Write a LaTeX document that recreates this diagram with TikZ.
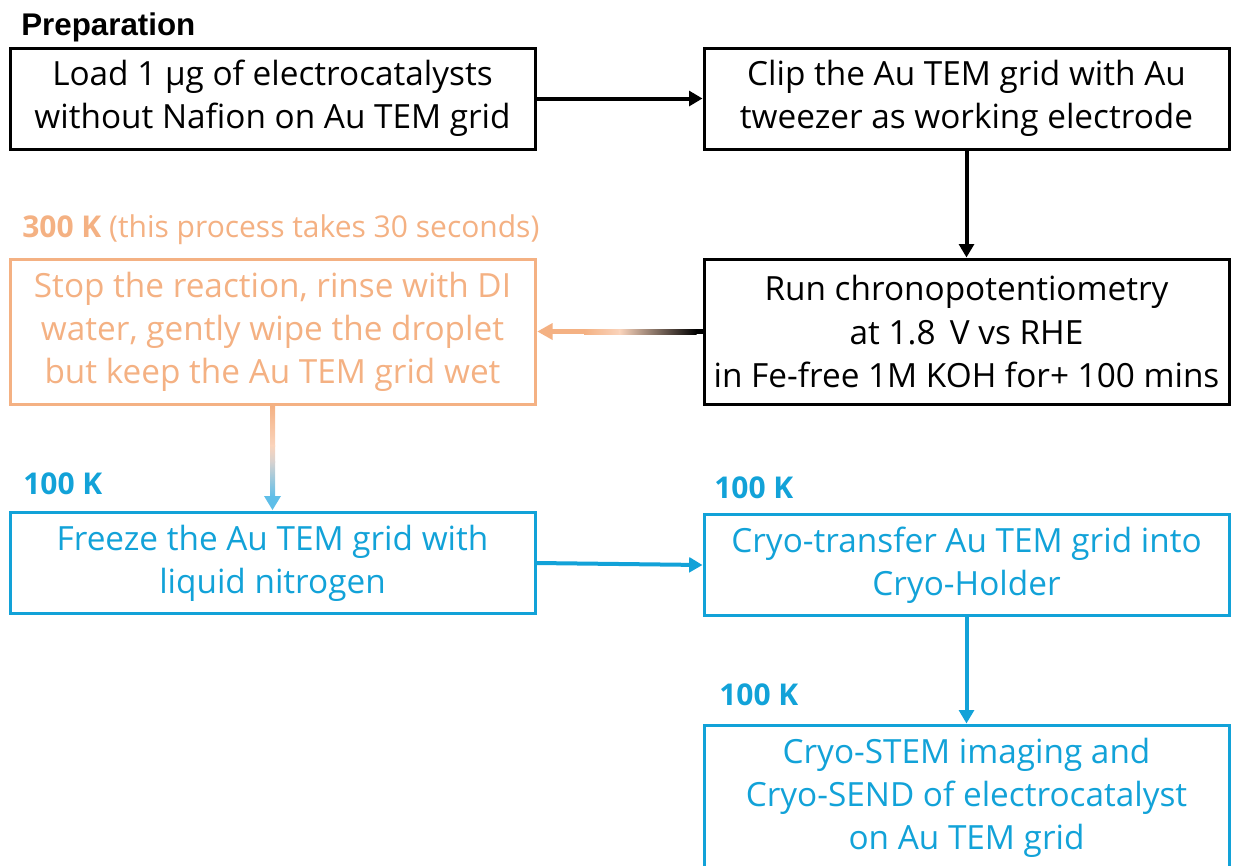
\documentclass[tikz,border=0pt]{standalone}
\usepackage{fontspec}
\setmainfont{Open Sans}
\newfontfamily\prepfont{Liberation Sans}
\usetikzlibrary{arrows.meta,calc}
\definecolor{orng}{RGB}{244,177,131}
\definecolor{cblue}{RGB}{18,162,216}
\definecolor{lblue}{RGB}{95,190,232}
\definecolor{peach}{RGB}{250,212,188}
\definecolor{mist}{RGB}{215,210,208}
\begin{document}
\begin{tikzpicture}[x=0.75pt,y=-0.75pt,
  box/.style={draw, line width=2.25pt, minimum width=393.75pt, minimum height=75.75pt,
    align=center, inner sep=2pt, font=\fontsize{25}{32.3}\selectfont},
  tallbox/.style={box, minimum height=108.75pt},
  blackbox/.style={box, draw=black, text=black},
  orangebox/.style={tallbox, draw=orng, text=orng},
  bluebox/.style={box, draw=cblue, text=cblue, line width=2.25pt},
  arr/.style={line width=3pt, -{Triangle[length=10pt,width=11pt]}},
  lab/.style={anchor=west, inner sep=0pt, font=\fontsize{22.5}{26}\selectfont\bfseries}
]
\useasboundingbox (0,0) rectangle (1233,865);
\clip (0,0) rectangle (1233,865);

% labels
\node[anchor=west, inner sep=0pt, font=\prepfont\fontsize{23.5}{26}\selectfont\bfseries] (prep) at (21,27) {Preparation};
\node[lab, text=orng] (l300) at (22,230) {300 K \mdseries(this process takes 30 seconds)};
\node[lab, text=cblue] (l100a) at (23,484) {100 K};
\node[lab, text=cblue] (l100b) at (714,488) {100 K};
\node[lab, text=cblue] (l100c) at (719,695) {100 K};

% boxes
\node[blackbox] (load) at (272.5,98.5) {Load 1 µg of electrocatalysts\\without Nafion on Au TEM grid};
\node[blackbox] (clip) at (966.5,98.5) {Clip the Au TEM grid with Au\\tweezer as working electrode};
\node[blackbox, tallbox] (run) at (966.5,331.5) {Run chronopotentiometry\\at 1.8\,\ V vs RHE\\in Fe-free 1M KOH for+ 100 mins};
\node[orangebox] (stop) at (272.5,331.5) {Stop the reaction, rinse with DI\\water, gently wipe the droplet\\but keep the Au TEM grid wet};
\node[bluebox] (freeze) at (272.5,563) {Freeze the Au TEM grid with\\liquid nitrogen};
\node[bluebox] (cryo) at (966.5,565) {Cryo-transfer Au TEM grid into\\Cryo-Holder};
\node[bluebox, minimum height=108.75pt] (stem) at (966.5,797.5) {Cryo-STEM imaging and\\Cryo-SEND of electrocatalyst\\on Au TEM grid};

% black and blue connectors
\draw[arr, black] (load.east) -- (clip.west);
\draw[arr, black] (clip.south) -- (run.north);
\draw[arr, cblue] (freeze.east) -- (cryo.west);
\draw[arr, cblue] (cryo.south) -- (stem.north);

% gradient connector run -> stop
\coordinate (hb) at ($(stop.east)+(16,0)$);
\coordinate (hm) at ($(stop.east)!0.5!(run.west)+(0,0)$);
\fill[orng] ($(hb)+(-1,-2.5)$) rectangle ($(hm)+(-35,2.5)$);
\shade[left color=orng, right color=peach]
  ($(hm)+(-35.5,-2.5)$) rectangle ($(hm)+(0.5,2.5)$);
\shade[left color=peach, right color=black]
  ($(hm)+(0,-2.5)$) rectangle ($(run.west)+(-6,2.5)$);
\fill[black] ($(run.west)+(-6.5,-2.5)$) rectangle ($(run.west)+(0,2.5)$);
\fill[orng] ($(stop.east)+(1,0)$) -- ($(hb)+(0,-8.5)$) -- ($(hb)+(0,8.5)$) -- cycle;

% gradient connector stop -> freeze
\coordinate (vb) at ($(freeze.north)+(0,-15)$);
\coordinate (vm) at ($(stop.south)!0.5!(freeze.north)$);
\shade[top color=orng, bottom color=peach]
  ($(stop.south)+(-2.5,0)$) rectangle ($(vm)+(2.5,-12)$);
\shade[top color=peach, bottom color=mist]
  ($(vm)+(-2.5,-12.5)$) rectangle ($(vm)+(2.5,4)$);
\shade[top color=mist, bottom color=lblue]
  ($(vm)+(-2.5,3.5)$) rectangle ($(vb)+(2.5,1)$);
\fill[lblue] ($(freeze.north)+(0,-1)$) -- ($(vb)+(-8.5,0)$) -- ($(vb)+(8.5,0)$) -- cycle;
\end{tikzpicture}
\end{document}
